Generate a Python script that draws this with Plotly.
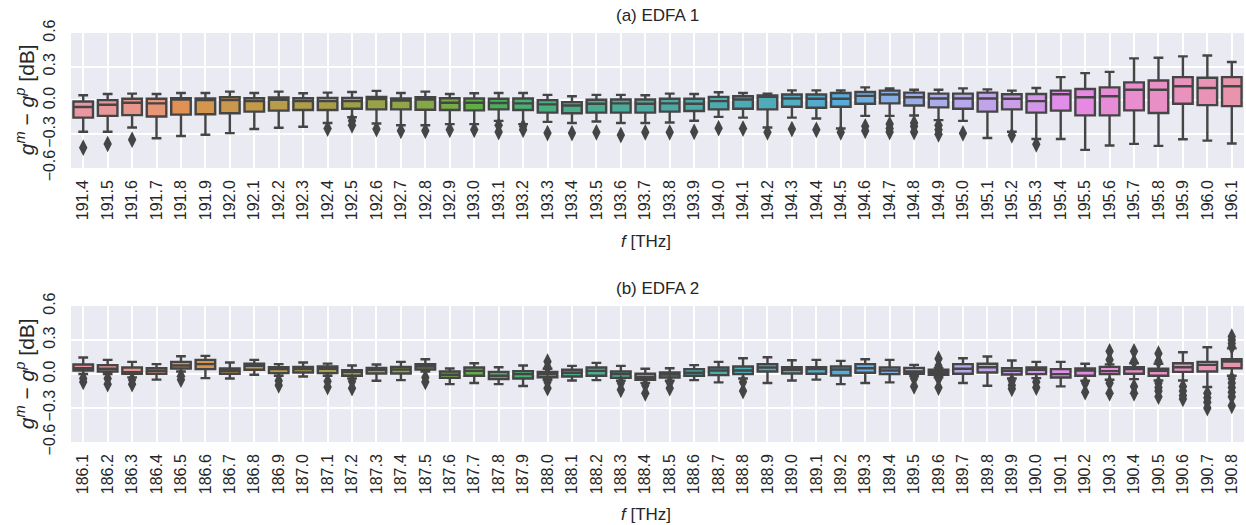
import math, colorsys
import plotly.graph_objects as go

# ---------------- data ----------------
freq_a = ["191.4","191.5","191.6","191.7","191.8","191.9","192.0","192.1","192.2","192.3","192.4","192.5",
          "192.6","192.7","192.8","192.9","193.0","193.1","193.2","193.3","193.4","193.5","193.6","193.7",
          "193.8","193.9","194.0","194.1","194.2","194.3","194.4","194.5","194.6","194.7","194.8","194.9",
          "195.0","195.1","195.2","195.3","195.4","195.5","195.6","195.7","195.8","195.9","196.0","196.1"]
upper_a = [0.047,0.058,0.061,0.058,0.067,0.067,0.079,0.067,0.079,0.064,0.070,0.076,
           0.085,0.067,0.079,0.058,0.064,0.067,0.067,0.050,0.038,0.050,0.050,0.047,
           0.061,0.058,0.073,0.067,0.061,0.090,0.090,0.090,0.117,0.108,0.096,0.096,
           0.108,0.099,0.088,0.111,0.208,0.243,0.254,0.374,0.380,0.392,0.400,0.342]
q3_a = [-0.009,0.003,0.015,0.015,0.020,0.018,0.029,0.020,0.026,0.020,0.023,0.023,
        0.032,0.018,0.029,0.020,0.018,0.015,0.018,0.003,-0.015,0.006,0.009,0.009,
        0.015,0.015,0.032,0.038,0.044,0.053,0.053,0.067,0.076,0.088,0.070,0.061,
        0.061,0.070,0.056,0.058,0.088,0.102,0.117,0.161,0.178,0.208,0.202,0.208]
median_a = [-0.058,-0.038,-0.020,-0.026,0.009,0.003,0.003,-0.006,0.006,-0.006,-0.006,-0.006,
            0.012,0.000,0.009,-0.020,-0.020,-0.023,-0.026,-0.035,-0.044,-0.029,-0.026,-0.029,
            -0.026,-0.029,-0.006,0.009,0.032,0.018,0.015,0.015,0.041,0.053,0.029,0.018,
            0.018,0.018,0.015,-0.006,0.056,0.029,0.038,0.096,0.096,0.126,0.111,0.126]
q1_a = [-0.152,-0.137,-0.130,-0.143,-0.126,-0.123,-0.114,-0.099,-0.090,-0.085,-0.085,-0.073,
        -0.079,-0.079,-0.082,-0.085,-0.088,-0.079,-0.085,-0.108,-0.114,-0.108,-0.108,-0.108,
        -0.099,-0.094,-0.079,-0.073,-0.079,-0.056,-0.064,-0.056,-0.029,-0.026,-0.044,-0.061,
        -0.073,-0.099,-0.079,-0.108,-0.090,-0.132,-0.132,-0.088,-0.111,-0.029,-0.041,-0.050]
lower_a = [-0.278,-0.278,-0.240,-0.336,-0.316,-0.304,-0.290,-0.254,-0.243,-0.234,-0.200,-0.149,
           -0.205,-0.220,-0.220,-0.210,-0.210,-0.181,-0.210,-0.190,-0.200,-0.187,-0.200,-0.200,
           -0.196,-0.180,-0.146,-0.152,-0.240,-0.152,-0.160,-0.249,-0.137,-0.137,-0.134,-0.175,
           -0.181,-0.333,-0.278,-0.342,-0.342,-0.439,-0.400,-0.386,-0.404,-0.345,-0.357,-0.383]
outliers_a = [[-0.42],[-0.386],[-0.348],[],[],[],[],[],[],[],[-0.249],[-0.18,-0.22],
              [-0.254],[-0.27],[-0.27],[-0.26],[-0.26],[-0.22,-0.28],[-0.23,-0.26],[-0.29],[-0.29],[-0.283],[-0.307],[-0.283],
              [-0.283],[-0.278],[-0.246],[-0.249],[-0.283],[-0.254],[-0.26],[-0.283],[-0.23,-0.27],[-0.21,-0.25,-0.28],[-0.2,-0.23,-0.28],[-0.22,-0.26,-0.30],
              [-0.292],[],[-0.31],[-0.39],[],[],[],[],[],[],[],[]]

freq_b = ["186.1","186.2","186.3","186.4","186.5","186.6","186.7","186.8","186.9","187.0","187.1","187.2",
          "187.3","187.4","187.5","187.6","187.7","187.8","187.9","188.0","188.1","188.2","188.3","188.4",
          "188.5","188.6","188.7","188.8","188.9","189.0","189.1","189.2","189.3","189.4","189.5","189.6",
          "189.7","189.8","189.9","190.0","190.1","190.2","190.3","190.4","190.5","190.6","190.7","190.8"]
upper_b = [0.145,0.125,0.107,0.087,0.157,0.160,0.101,0.125,0.087,0.101,0.092,0.075,
           0.084,0.107,0.130,0.049,0.095,0.060,0.075,0.046,0.072,0.098,0.072,0.046,
           0.051,0.078,0.107,0.139,0.148,0.122,0.125,0.116,0.130,0.125,0.081,0.051,
           0.139,0.154,0.119,0.107,0.107,0.090,0.085,0.095,0.090,0.192,0.236,0.226]
q3_b = [0.084,0.078,0.057,0.051,0.107,0.125,0.049,0.092,0.060,0.063,0.066,0.034,
        0.054,0.063,0.087,0.022,0.057,0.019,0.025,0.019,0.037,0.057,0.022,0.002,
        0.013,0.043,0.057,0.066,0.087,0.060,0.060,0.066,0.087,0.057,0.054,0.037,
        0.087,0.090,0.051,0.057,0.043,0.049,0.063,0.060,0.046,0.095,0.107,0.130]
median_b = [0.051,0.046,0.016,0.028,0.075,0.087,0.028,0.072,0.043,0.043,0.046,0.019,
            0.037,0.040,0.066,-0.007,0.028,-0.016,-0.001,-0.001,0.011,0.028,-0.001,-0.028,
            -0.004,0.011,0.031,0.031,0.057,0.037,0.043,0.040,0.051,0.031,0.022,0.016,
            0.046,0.060,0.028,0.037,-0.001,0.031,0.025,0.043,0.028,0.060,0.081,0.110]
q1_b = [0.031,0.022,0.002,0.002,0.049,0.043,0.002,0.037,0.008,0.013,0.008,-0.016,
        0.005,0.005,0.040,-0.034,-0.016,-0.045,-0.039,-0.028,-0.022,-0.016,-0.034,-0.051,
        -0.031,-0.016,-0.010,-0.001,0.022,0.005,0.002,-0.013,0.011,-0.001,0.002,-0.007,
        0.002,0.013,-0.004,-0.001,-0.031,-0.016,-0.001,0.002,-0.016,0.019,0.022,0.051]
lower_b = [0.000,0.000,-0.030,-0.050,0.022,-0.036,-0.039,-0.007,-0.016,-0.022,-0.016,-0.040,
           -0.060,-0.054,0.022,-0.089,-0.080,-0.089,-0.106,-0.051,-0.057,-0.054,-0.060,-0.080,
           -0.060,-0.054,-0.074,-0.040,-0.080,-0.057,-0.050,-0.089,-0.080,-0.074,-0.020,-0.028,
           -0.080,-0.104,-0.040,-0.036,-0.109,-0.060,-0.051,-0.045,-0.057,-0.057,-0.115,-0.016]
outliers_b = [[-0.04,-0.07],[-0.04,-0.09],[-0.05,-0.09],[],[-0.02,-0.05],[],[],[],[-0.06,-0.10],[],[-0.065,-0.115],[-0.065,-0.125],
              [],[],[-0.03,-0.07],[],[],[],[],[0.06,0.11,-0.07,-0.125],[],[],[-0.08,-0.14],[-0.10,-0.17],
              [-0.075,-0.125],[],[],[-0.07,-0.15],[],[],[],[],[],[],[-0.04,-0.11],[0.07,0.135,-0.04,-0.12],
              [],[],[-0.06,-0.10,-0.13],[-0.07,-0.12],[],[-0.08,-0.16],[0.125,0.20,-0.08,-0.17],[0.11,0.20,-0.11,-0.17],[0.11,0.18,-0.08,-0.12,-0.15,-0.20],[-0.11,-0.15,-0.19,-0.22],[-0.17,-0.21,-0.25,-0.30],[0.24,0.27,0.30,0.33,-0.04,-0.08,-0.12,-0.16,-0.20,-0.28]]

# ---------------- husl palette (seaborn style) ----------------
_m = [[3.2406, -1.5372, -0.4986], [-0.9689, 1.8758, 0.0415], [0.0557, -0.2040, 1.0570]]
_refU, _refV = 0.19784, 0.46834

def _max_chroma(L, H):
    hrad = math.radians(H)
    sinH, cosH = math.sin(hrad), math.cos(hrad)
    sub1 = (L + 16) ** 3 / 1560896.0
    sub2 = sub1 if sub1 > 0.008856 else L / 903.3
    res = float("inf")
    for m1, m2, m3 in _m:
        top = (0.99915 * m1 + 1.05122 * m2 + 1.14460 * m3) * sub2
        rb = 0.86330 * m3 - 0.17266 * m2
        lb = 0.12949 * m3 - 0.38848 * m1
        bottom = (rb * sinH + lb * cosH) * sub2
        for t in (0.0, 1.0):
            C = L * (top - 1.05122 * t) / (bottom + 0.17266 * sinH * t)
            if 0.0 < C < res:
                res = C
    return res

def _husl_to_rgb(H, S, L):
    C = _max_chroma(L, H) / 100.0 * S
    hr = math.radians(H)
    U, V = math.cos(hr) * C, math.sin(hr) * C
    t = (L + 16.0) / 116.0
    Y = t ** 3 if t ** 3 > 0.008856 else (116.0 * t - 16.0) / 903.3
    vu = U / (13.0 * L) + _refU
    vv = V / (13.0 * L) + _refV
    X = -(9.0 * Y * vu) / ((vu - 4.0) * vv - vu * vv)
    Z = (9.0 * Y - 15.0 * vv * Y - vv * X) / (3.0 * vv)
    out = []
    for row in _m:
        c = row[0] * X + row[1] * Y + row[2] * Z
        c = 12.92 * c if c <= 0.0031308 else 1.055 * c ** (1 / 2.4) - 0.055
        out.append(min(max(c, 0.0), 1.0))
    return out

def husl_palette(n, h=0.01, s=0.9, l=0.7):
    cols = []
    for i in range(n):
        hue = ((i / n) + h) % 1 * 359
        r, g, b = _husl_to_rgb(hue, s * 99, l * 99)
        hh, ll, ss = colorsys.rgb_to_hls(r, g, b)
        r, g, b = colorsys.hls_to_rgb(hh, ll, ss * 0.75)
        cols.append((r, g, b))
    return cols

def to_hex(c):
    return "#%02x%02x%02x" % tuple(int(round(v * 255)) for v in c)

pal = husl_palette(48)
lum = min(colorsys.rgb_to_hls(*c)[1] for c in pal) * 0.6
GRAY = to_hex((lum, lum, lum))
COLORS = [to_hex(c) for c in pal]

# ---------------- figure ----------------
FONT = "Liberation Sans, Arial, sans-serif"
TXT = "#262626"
fig = go.Figure()

panels = [
    (freq_a, upper_a, q3_a, median_a, q1_a, lower_a, outliers_a, "x", "y"),
    (freq_b, upper_b, q3_b, median_b, q1_b, lower_b, outliers_b, "x2", "y2"),
]
for freqs, up, q3, med, q1, lo, outs, xa, ya in panels:
    for i in range(len(freqs)):
        fig.add_trace(go.Box(
            x=[i], q1=[q1[i]], median=[med[i]], q3=[q3[i]],
            lowerfence=[lo[i]], upperfence=[up[i]],
            width=0.8, whiskerwidth=0.5, fillcolor=COLORS[i],
            line=dict(color=GRAY, width=2.4),
            boxpoints=False, showlegend=False, hoverinfo="skip",
            xaxis=xa, yaxis=ya))
    ox, oy = [], []
    for i, lst in enumerate(outs):
        for v in lst:
            ox.append(i)
            oy.append(v)
    fig.add_trace(go.Scatter(
        x=ox, y=oy, mode="markers",
        marker=dict(symbol="diamond-tall", size=12, color=GRAY, line=dict(width=0)),
        showlegend=False, hoverinfo="skip", xaxis=xa, yaxis=ya))

xcommon = dict(range=[-0.5, 47.5], tickmode="array", tickvals=list(range(48)),
               tickangle=-90, showgrid=True, gridcolor="white", gridwidth=1.5,
               zeroline=False, showline=False, ticks="", ticklabelstandoff=8,
               tickfont=dict(family=FONT, size=16, color=TXT))
ycommon = dict(range=[-0.6, 0.6], tickmode="array", tickvals=[-0.6, -0.3, 0, 0.3, 0.6],
               ticktext=["\u22120.6", "\u22120.3", "0.0", "0.3", "0.6"],
               tickangle=-90, showgrid=True, gridcolor="white", gridwidth=1.5,
               zeroline=False, showline=False, ticks="", ticklabelstandoff=12,
               tickfont=dict(family=FONT, size=16, color=TXT))

fig.update_layout(
    width=1246, height=525,
    margin=dict(l=71, r=2, t=33, b=83),
    paper_bgcolor="white", plot_bgcolor="#EAEAF2",
    xaxis=dict(domain=[0, 1], anchor="y", ticktext=freq_a, **xcommon),
    yaxis=dict(domain=[0.670, 1.0], anchor="x", **ycommon),
    xaxis2=dict(domain=[0, 1], anchor="y2", ticktext=freq_b, **xcommon),
    yaxis2=dict(domain=[0.0, 0.3325], anchor="x2", **ycommon),
    font=dict(family=FONT, color=TXT),
)

ytitle = "<i>g</i><sup><i>m</i></sup> \u2212 <i>g</i><sup><i>p</i></sup> [dB]"
ann = [
    dict(text="(a) EDFA 1", x=0.5, y=1.044, size=17),
    dict(text="(b) EDFA 2", x=0.5, y=0.3765, size=17),
    dict(text="<i>f</i> [THz]", x=0.49, y=0.489, size=17),
    dict(text="<i>f</i> [THz]", x=0.49, y=-0.178, size=17),
]
for a in ann:
    fig.add_annotation(text=a["text"], x=a["x"], y=a["y"], xref="paper", yref="paper",
                       showarrow=False, xanchor="center", yanchor="middle",
                       font=dict(family=FONT, size=a["size"], color=TXT))
for yc in [(442 - 100) / 409, (442 - 374) / 409]:
    fig.add_annotation(text=ytitle, x=-0.039, y=yc, xref="paper", yref="paper",
                       showarrow=False, textangle=-90, xanchor="center", yanchor="middle",
                       font=dict(family=FONT, size=21, color=TXT))

fig.write_html("out.html", config={"displayModeBar": False},
               post_script="document.body.style.margin='0';document.body.style.overflow='hidden';")
